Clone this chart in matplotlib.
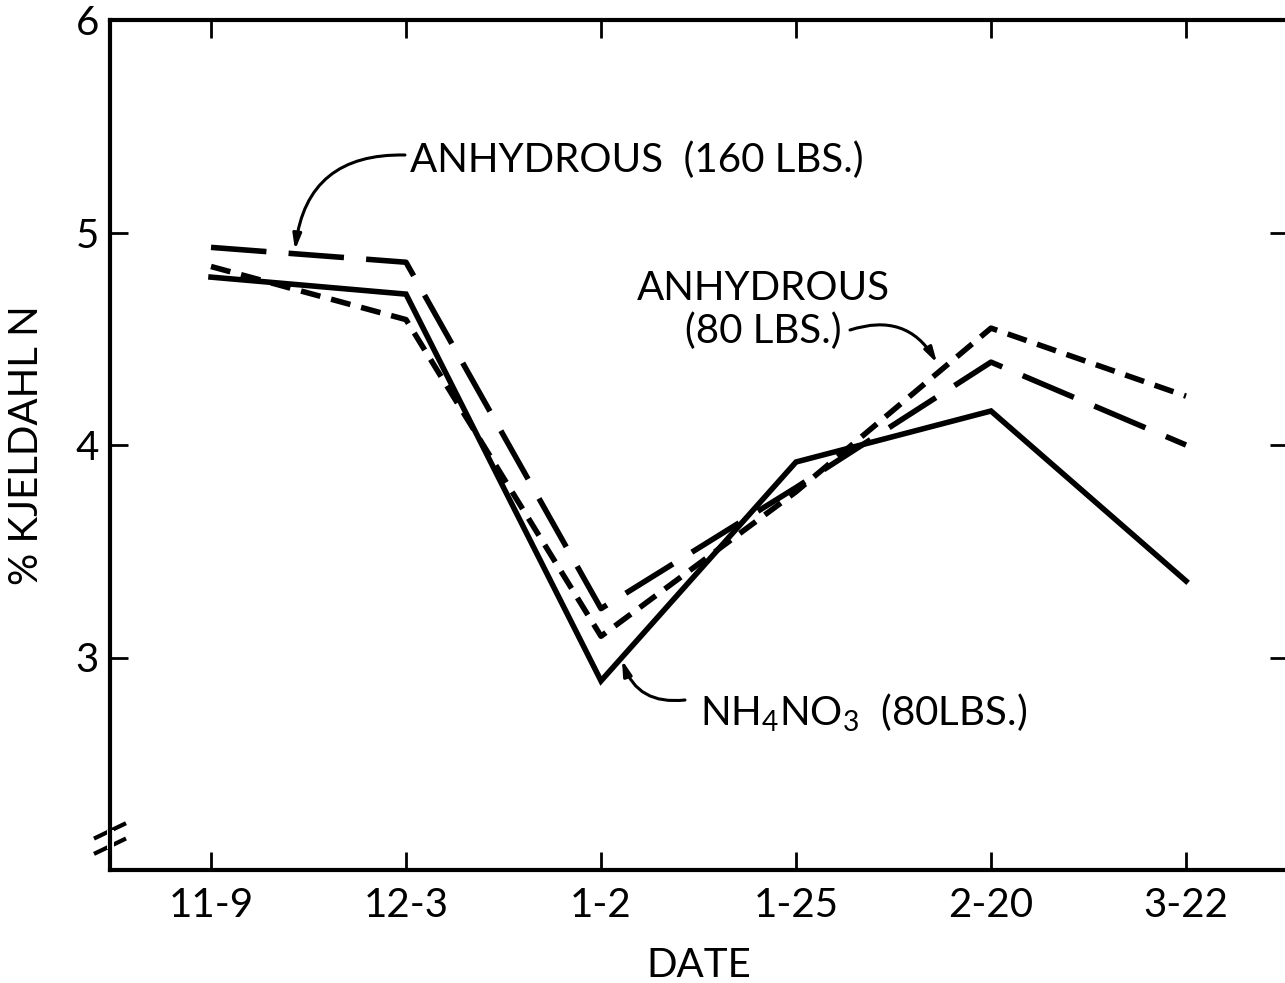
import matplotlib
matplotlib.use("Agg")
import matplotlib.pyplot as plt
from matplotlib.lines import Line2D

dates = ["11-9", "12-3", "1-2", "1-25", "2-20", "3-22"]
nh4no3_80 = [4.79, 4.71, 2.89, 3.92, 4.16, 3.36]
anhydrous_160 = [4.93, 4.86, 3.23, 3.80, 4.39, 4.00]
anhydrous_80 = [4.84, 4.59, 3.10, 3.78, 4.55, 4.23]
y_ticks = [3, 4, 5, 6]

plt.rcParams['font.family'] = ['Lato', 'DejaVu Sans']
plt.rcParams['mathtext.default'] = 'regular'

fig = plt.figure(figsize=(12.85, 9.83), dpi=100)
ax = fig.add_axes([110/1285, 113/983, (1288-110)/1285, (870-20)/983])

x = list(range(len(dates)))
lw = 4.0
ax.plot(x, nh4no3_80, color='black', lw=lw, solid_joinstyle='miter')
ax.plot(x, anhydrous_160, color='black', lw=lw, dashes=(10, 4))
ax.plot(x, anhydrous_80, color='black', lw=lw, dashes=(3.6, 2))

ax.set_xlim(-0.518, 5.523)
ax.set_ylim(2.0, 6.0)
ax.set_xticks(x)
ax.set_xticklabels(dates)
ax.set_yticks(y_ticks)
ax.set_yticklabels([str(v) for v in y_ticks])
fs = 29
ax.tick_params(direction='in', length=13, width=2, labelsize=fs, top=True, right=True, pad=12)
ax.tick_params(axis='y', pad=8)
for s in ax.spines.values():
    s.set_linewidth(3)

ax.set_xlabel("DATE", fontsize=fs, labelpad=17)
ax.set_ylabel("% KJELDAHL N", fontsize=fs, labelpad=22)

# axis break marks on left spine
for yb in (0.028, 0.046):
    ax.add_line(Line2D([-0.012, 0.012], [yb - 0.008, yb + 0.008], transform=ax.transAxes,
                       color='black', lw=3, clip_on=False))
ax.add_line(Line2D([0, 0], [0.03, 0.044], transform=ax.transAxes, color='white', lw=5, clip_on=False))

ax.text(410/1285, 1 - 160/983, "ANHYDROUS  (160 LBS.)", transform=fig.transFigure,
        fontsize=fs, ha='left', va='center')
ax.text(763/1285, 1 - 310/983, "ANHYDROUS\n(80 LBS.)", transform=fig.transFigure,
        fontsize=fs, ha='center', va='center', linespacing=1.2)
ax.text(700/1285, 1 - 713/983, r"NH$_4$NO$_3$  (80LBS.)", transform=fig.transFigure,
        fontsize=fs, ha='left', va='center')

arrowprops = dict(arrowstyle='-|>,head_length=0.9,head_width=0.25', color='black', lw=2.2,
                  shrinkA=0, shrinkB=0)
def px(xp, yp):
    return (xp/1285, 1 - yp/983)

ax.annotate("", xy=px(295, 250), xycoords='figure fraction', xytext=px(405, 155),
            textcoords='figure fraction',
            arrowprops=dict(arrowprops, connectionstyle='arc3,rad=0.45'))
ax.annotate("", xy=px(937, 363), xycoords='figure fraction', xytext=px(850, 330),
            textcoords='figure fraction',
            arrowprops=dict(arrowprops, connectionstyle='arc3,rad=-0.4'))
ax.annotate("", xy=px(622, 660), xycoords='figure fraction', xytext=px(685, 700),
            textcoords='figure fraction',
            arrowprops=dict(arrowprops, connectionstyle='arc3,rad=-0.4'))

fig.savefig("out.png", dpi=100)
